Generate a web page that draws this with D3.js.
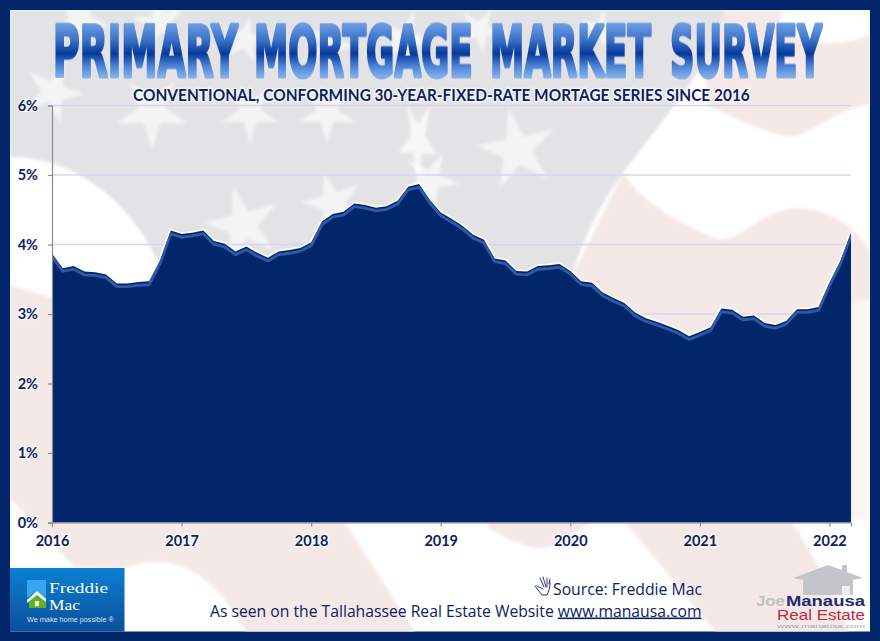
<!DOCTYPE html>
<html><head><meta charset="utf-8">
<script src="https://cdn.jsdelivr.net/npm/d3@7/dist/d3.min.js"></script>
<style>html,body{margin:0;padding:0;background:#03266a}svg{display:block}</style>
</head><body><svg id="c" width="880" height="641"></svg>
<script>
const titleWords = ["PRIMARY","MORTGAGE","MARKET","SURVEY"];
const subtitle = "CONVENTIONAL, CONFORMING 30-YEAR-FIXED-RATE MORTAGE SERIES SINCE 2016";
const yearLabels = ["2016","2017","2018","2019","2020","2021","2022"];
const percentTicks = [0,1,2,3,4,5,6];
const rates2016 = [3.87,3.66,3.69,3.61,3.60,3.57,3.44,3.44,3.46,3.47,3.77,4.20];
const rates2017 = [4.15,4.17,4.20,4.05,4.01,3.90,3.97,3.88,3.81,3.90,3.92,3.95];
const rates2018 = [4.03,4.33,4.44,4.47,4.59,4.57,4.53,4.55,4.63,4.83,4.87,4.64];
const rates2019 = [4.46,4.37,4.27,4.14,4.07,3.80,3.77,3.62,3.61,3.69,3.70,3.72];
const rates2020 = [3.62,3.47,3.45,3.31,3.23,3.16,3.02,2.94,2.89,2.83,2.77,2.68];
const rates2021 = [2.74,2.81,3.08,3.06,2.96,2.98,2.87,2.84,2.90,3.07,3.07,3.10];
const rates2022 = [3.45,3.76,4.17];
const rates = [].concat(rates2016,rates2017,rates2018,rates2019,rates2020,rates2021,rates2022);

const NAVY="#03266a", TXT="#0b2162";
const svg=d3.select("#c");
const defs=svg.append("defs");
const sans="Lato, 'Open Sans', sans-serif";

function fit(sel,xp,yp,w){
  const n=sel.node().getComputedTextLength();
  sel.attr("transform",`translate(${xp},${yp}) scale(${w/n},1)`);
  return sel;
}

/* ---------- frame + flag backdrop ---------- */
svg.append("rect").attr("width",880).attr("height",641).attr("fill",NAVY);
defs.append("clipPath").attr("id","inner").append("rect").attr("x",10).attr("y",10).attr("width",860).attr("height",621.5);
defs.append("filter").attr("id","soft").attr("x","-5%").attr("y","-5%").attr("width","110%").attr("height","110%")
  .append("feGaussianBlur").attr("stdDeviation",1.6);
defs.append("filter").attr("id","soft2").append("feGaussianBlur").attr("stdDeviation",0.5);
const bg=svg.append("g").attr("clip-path","url(#inner)");
bg.append("rect").attr("x",10).attr("y",10).attr("width",860).attr("height",622).attr("fill","#ffffff");
const soft=bg.append("g").attr("filter","url(#soft)");
const PINK="#f5e9e7", GRAY="#e3e3e6";
[
 "M700,10 L870,10 L870,105 C850,105 830,120 800,135 C785,140 760,130 708,106 Z",
 "M623,173 C640,200 680,225 720,240 C745,238 760,212 795,208 C830,208 855,228 870,250 L870,520 L560,520 L560,300 Z",
 "M10,285 L60,300 L60,522 L345,522 L420,640 L250,640 C235,610 205,562 157,562 C140,562 130,566 122,570 L75,568 L14,503 L10,500 Z",
 "M487,522 L592,522 C570,535 555,549 538,548 C520,547 500,535 487,527 Z",
 "M625,522 L792,522 L830,585 L852,640 L722,640 Z"
].forEach(d=>soft.append("path").attr("d",d).attr("fill",PINK));
soft.append("path").attr("fill",GRAY)
  .attr("d","M10,10 L725,10 C715,60 670,110 623,173 C600,205 580,240 565,300 L170,300 C155,225 90,157 10,157 Z");
soft.append("ellipse").attr("cx",830).attr("cy",20).attr("rx",50).attr("ry",23).attr("fill","#fff");
soft.append("rect").attr("x",853).attr("y",300).attr("width",20).attr("height",225).attr("fill","#fff").attr("opacity",.55);
function starPath(cx,cy,r,rot,sx){
  const pts=[];
  for(let i=0;i<10;i++){
    const a=rot+i*Math.PI/5, R=i%2?r*0.36:r;
    pts.push([cx+R*Math.sin(a)*(sx||1), cy-R*Math.cos(a)]);
  }
  return "M"+pts.map(p=>p.map(v=>v.toFixed(1)).join(",")).join("L")+"Z";
}
[[152,112,38,3.14],[53,92,32,2.9],[250,113,30,3.14],[243,225,40,-0.25],[517,150,42,-0.2],
 [327,113,30,3.14],[430,180,30,0.45],[333,203,32,-0.3],[80,20,30,0.5],[160,22,28,-0.2],
 [405,40,30,0.3],[245,40,24,0.2],[330,45,26,2.9],[480,30,24,0.5],[600,30,22,0.2]]
 .forEach(s=>soft.append("path").attr("d",starPath(s[0],s[1],s[2],s[3])).attr("fill","#fff").attr("opacity",.6));
soft.append("path").attr("d",starPath(418,140,44,0.65,0.45)).attr("fill","#fff").attr("opacity",.7);

/* ---------- scales ---------- */
const x=d3.scaleLinear().domain([0,rates.length-1]).range([52,851]);
const y=d3.scaleLinear().domain([0,6]).range([522.5,105.5]);

/* ---------- grid ---------- */
svg.append("g").selectAll("line").data(percentTicks.slice(1)).join("line")
  .attr("x1",x(0)).attr("x2",x(rates.length-1)).attr("y1",d=>y(d)).attr("y2",d=>y(d))
  .attr("stroke","#d6d4f0").attr("stroke-width",1.3);

/* ---------- area ---------- */
const lineGen=d3.line().x((d,i)=>x(i)).y(d=>y(d));
const areaGen=d3.area().x((d,i)=>x(i)).y0(y(0)).y1(d=>y(d));
svg.append("path").attr("d",lineGen(rates)).attr("fill","none").attr("stroke","#fff").attr("stroke-width",3.5).attr("opacity",.85).attr("filter","url(#soft2)");
svg.append("path").attr("d",areaGen(rates)).attr("fill",NAVY);
defs.append("clipPath").attr("id","areaClip").append("path").attr("d",areaGen(rates));
const bevel=svg.append("g").attr("clip-path","url(#areaClip)");
bevel.append("path").attr("d",lineGen(rates)).attr("fill","none").attr("stroke","#2f5aa8").attr("stroke-width",2.8)
  .attr("transform","translate(0,3.2)").attr("filter","url(#soft2)");

/* ---------- axes ---------- */
const yAxis=svg.append("g").attr("transform",`translate(${x(0)},0)`)
  .call(d3.axisLeft(y).tickValues(percentTicks).tickFormat(d=>d+"%").tickSize(4).tickPadding(10));
const xAxis=svg.append("g").attr("transform",`translate(0,${y(0)})`)
  .call(d3.axisBottom(x).tickValues(yearLabels.map((d,i)=>i*12)).tickFormat((d,i)=>yearLabels[i]).tickSize(4).tickPadding(9));
[yAxis,xAxis].forEach(a=>{
  a.selectAll("path,line").attr("stroke","#8c8c8c").attr("stroke-width",1.2);
  a.selectAll("text").attr("fill",TXT).style("font-family",sans).style("font-weight",700).style("font-size","14.5px")
    .style("paint-order","stroke").style("stroke","rgba(255,255,255,.8)").style("stroke-width","2.5px");
});

/* ---------- title ---------- */
const capH=70*0.729;
const gw=defs.append("linearGradient").attr("id","tgw").attr("gradientUnits","userSpaceOnUse")
  .attr("x1",0).attr("x2",0).attr("y1",-capH).attr("y2",0);
[[0,"#6a99e0"],[.3,"#3a70c6"],[.56,"#063a9a"],[.8,"#4a80d4"],[1,"#7fabe8"]].forEach(s=>gw.append("stop").attr("offset",s[0]).attr("stop-color",s[1]));
const outline=defs.append("filter").attr("id","outline").attr("x","-3%").attr("y","-3%").attr("width","106%").attr("height","106%");
outline.append("feMorphology").attr("in","SourceAlpha").attr("operator","dilate").attr("radius",0.8).attr("result","fat");
outline.append("feFlood").attr("flood-color","#8db3ea").attr("result","col");
outline.append("feComposite").attr("in","col").attr("in2","fat").attr("operator","in").attr("result","edge");
const om=outline.append("feMerge");
om.append("feMergeNode").attr("in","edge");
om.append("feMergeNode").attr("in","SourceGraphic");
const wordSpan=[[53,185],[254,219],[490,161],[670,152]];
titleWords.forEach((w,i)=>{
  const t=svg.append("text").style("font-family","'DejaVu Sans',sans-serif").style("font-weight",700).style("font-size","70px")
    .attr("fill","url(#tgw)").attr("stroke","url(#tgw)").attr("stroke-width",3.2).attr("stroke-linejoin","round")
    .attr("filter","url(#outline)").text(w);
  fit(t,wordSpan[i][0],76,wordSpan[i][1]);
});

/* ---------- subtitle ---------- */
const halo=s=>s.style("paint-order","stroke").style("stroke","rgba(255,255,255,.85)").style("stroke-width","2.5px");
fit(svg.append("text").attr("fill",TXT).style("font-family",sans).style("font-weight",700).style("font-size","17.5px").call(halo).text(subtitle),133,100.5,617);

/* ---------- footer ---------- */
const foot="'Open Sans',sans-serif";
fit(svg.append("text").attr("fill",TXT).style("font-family",foot).style("font-size","16px").text("Source: Freddie Mac"),553,595,149);
const line2=svg.append("text").attr("fill",TXT).style("font-family",foot).style("font-size","16px");
line2.append("tspan").text("As seen on the Tallahassee Real Estate Website ");
line2.append("tspan").style("text-decoration","underline").text("www.manausa.com");
fit(line2,210,616.5,492);
const hand=svg.append("g").attr("fill","none").attr("stroke",TXT).attr("stroke-width",.9).attr("stroke-linecap","round").attr("stroke-linejoin","round");
hand.append("path").attr("d","M535,586 L542,595 L547,595 C549,591 550,588 550,582 M537,586 L543,589 M540,578 L544,587 M543,577 L546,587 M547,578 L547,587 M550,579 L549,584");

/* ---------- Freddie Mac badge ---------- */
const fg=defs.append("linearGradient").attr("id","fm").attr("x1",0).attr("x2",0).attr("y1",0).attr("y2",1);
[[0,"#0a80d2"],[1,"#0c4f9c"]].forEach(s=>fg.append("stop").attr("offset",s[0]).attr("stop-color",s[1]));
const fm=svg.append("g");
fm.append("rect").attr("x",10).attr("y",568).attr("width",114.5).attr("height",63.5).attr("fill","url(#fm)");
fm.append("path").attr("d","M27,580 H46 V599 L37,591 L27,598 Z").attr("fill","#36a6f0");
fm.append("path").attr("d","M27,600 L37,591 L46,599 V608 H29 V602 Z").attr("fill","#5fb31e");
fm.append("path").attr("d","M27,600 L37,591 L46,599 L46,602 L37,595 L27,603 Z").attr("fill","#fff");
fm.append("rect").attr("x",35).attr("y",601).attr("width",4).attr("height",5).attr("fill","#fff");
const serif="'Liberation Serif',serif";
fit(fm.append("text").attr("fill","#fff").style("font-family",serif).style("font-size","15px").text("Freddie"),49,592.5,59);
fit(fm.append("text").attr("fill","#fff").style("font-family",serif).style("font-size","15px").text("Mac"),49,610,31);
fit(fm.append("text").attr("fill","#d5e6f5").style("font-family","'Liberation Sans',sans-serif").style("font-size","7.5px").text("We make home possible ®"),27,622,87);

/* ---------- Joe Manausa logo ---------- */
const jm=svg.append("g");
jm.append("path").attr("fill","#c4c5c8").attr("d","M793,578 L828,565 L842,570 V565 H847 V572 L863,578 L853,580 V595 H803 V580 Z");
jm.append("rect").attr("x",842).attr("y",586).attr("width",8).attr("height",9).attr("fill","#eee");
const ls="'Liberation Sans',Arial,sans-serif";
const jt=(t,xp,yp,w,size,fill,weight)=>fit(jm.append("text").attr("fill",fill).style("font-family",ls).style("font-size",size+"px").style("font-weight",weight).text(t),xp,yp,w);
jt("Joe",756,606,29,14.5,"#c0c1c4",700);
jt("Manausa",786,606,79,14.5,"#1c2f6e",700);
jt("Real Estate",777,620,88,14,"#c9263c",400);
jt("www.manausa.com",777,627.5,88,6,"#a5a5a8",400);
</script></body></html>
